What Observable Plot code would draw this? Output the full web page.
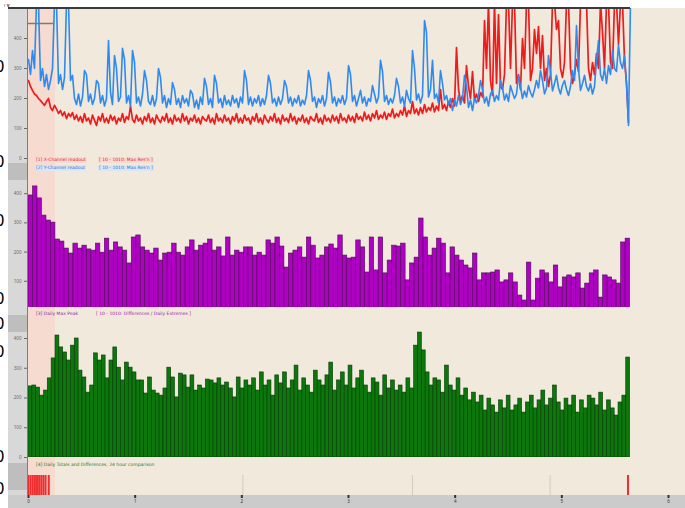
<!DOCTYPE html>
<html><head><meta charset="utf-8">
<script src="https://cdn.jsdelivr.net/npm/d3@7"></script>
<script src="https://cdn.jsdelivr.net/npm/@observablehq/plot@0.6"></script>
<style>
html,body{margin:0;padding:0;background:#fff;}
#chart{position:relative;width:685px;height:508px;overflow:hidden;font-family:"DejaVu Sans",sans-serif;background:#fff;}
#chart svg{position:absolute;left:0;top:0;}
.deco{position:absolute;}
.lbl{position:absolute;font-size:4.5px;line-height:6px;white-space:nowrap;padding:0 1px;}
.cut{position:absolute;font-size:15px;line-height:15px;color:#000;}
</style></head><body><div id="chart"></div>
<script>
// ---------- data ----------
const blueVals = [330,280,360,300,520,520,260,300,240,280,230,260,300,520,520,250,280,230,270,520,520,260,
277,200,180,215,175,205,293,280,190,215,180,200,260,250,185,210,175,200,393,220,180,343,300,190,205,367,330,185,210,175,360,320,185,205,175,215,293,260,190,180,210,175,200,300,270,
185,210,170,200,180,253,230,180,200,170,210,185,200,175,227,215,170,195,165,205,180,267,240,180,200,170,277,250,185,200,170,210,180,195,
175,210,185,200,170,205,185,293,260,180,205,175,200,185,210,175,200,180,210,277,250,185,200,175,205,180,200,260,240,185,205,175,200,185,210,175,195,180,210,293,260,190,205,170,200,185,210,175,200,287,255,185,205,175,200,185,210,180,200,310,280,190,210,175,200,227,185,205,175,200,190,243,215,185,205,327,290,190,210,180,200,185,210,267,240,185,205,175,227,200,185,360,300,195,215,185,210,460,420,205,230,327,200,215,185,293,250,195,210,180,200,
160,195,175,210,180,200,277,240,170,195,160,200,185,210,260,230,185,205,175,215,227,190,210,195,260,235,195,215,190,243,220,200,215,277,240,200,225,205,243,220,205,230,260,235,293,260,215,235,343,290,225,250,277,235,215,245,260,230,210,240,293,260,443,300,227,250,277,240,225,250,215,240,327,393,280,260,300,250,310,280,360,300,290,377,320,300,343,250,110,520];
const redVals = [260,240,227,215,210,200,193,185,177,190,200,170,160,177,165,150,160,143,155,133,150,140,
153,130,145,125,140,120,150,125,135,115,145,127,110,140,125,150,120,135,118,145,127,140,115,135,125,150,120,140,130,175,130,120,145,125,135,115,140,125,150,120,135,115,145,130,120,140,125,150,120,135,115,145,125,135,120,150,125,140,115,135,125,145,120,135,115,140,130,125,145,120,135,115,150,125,135,120,145,125,135,
115,140,125,150,120,135,118,145,127,135,115,140,125,150,120,135,115,145,130,120,140,125,150,120,135,115,145,125,135,120,150,125,140,115,135,125,145,120,135,115,140,130,125,150,120,135,115,145,125,135,120,145,125,140,118,150,127,135,120,145,125,140,120,150,130,140,125,155,130,145,125,150,135,160,130,145,135,155,130,150,140,165,135,150,140,160,145,175,140,160,150,190,150,165,145,170,150,180,155,170,160,185,155,175,160,230,165,180,160,190,170,
200,175,370,230,190,210,185,310,240,200,290,195,215,190,220,205,460,300,520,260,210,520,250,480,240,230,280,520,520,300,520,520,250,280,230,400,300,520,520,260,300,430,350,440,300,410,260,300,240,280,520,520,430,460,300,270,320,520,520,300,250,280,330,290,520,520,520,520,300,260,320,280,350,300,520,420,300,520,520,320,300,520,520,380,520,520,330,250,120];
const purpleVals = [394,425,384,325,308,301,243,236,212,195,229,212,222,209,205,229,198,246,205,233,216,205,161,250,257,216,205,195,212,171,195,198,229,198,188,216,240,205,222,229,243,205,216,185,250,188,205,198,
216,216,188,198,188,240,229,250,219,147,195,205,216,181,250,222,178,188,216,226,212,257,188,178,181,240,216,130,250,137,250,127,171,222,219,229,103,161,181,315,250,188,212,246,229,127,216,188,171,154,144,195,103,127,127,130,137,96,103,127,96,51,34,164,34,109,137,127,96,154,79,113,120,113,127,75,92,127,137,44,120,113,103,92,233,246];
const greenVals = [239,242,235,208,225,266,333,410,370,353,326,376,400,292,269,218,242,350,326,343,266,326,370,302,259,319,302,286,259,259,215,269,225,215,208,232,302,269,202,282,276,235,276,225,242,232,262,259,249,266,242,252,232,202,269,232,
259,242,266,225,286,242,259,208,276,249,286,232,259,309,225,266,242,218,292,259,242,276,319,225,259,286,242,309,232,266,292,242,218,266,252,208,276,232,259,225,242,218,266,232,376,420,360,286,242,266,259,218,309,242,225,266,208,232,192,218,185,208,158,198,175,151,192,165,208,158,175,198,151,185,208,165,192,225,175,198,242,185,158,198,175,208,151,192,165,208,198,175,218,158,192,165,141,185,208,336];
const eventsRed = [0,2,4,6,8,10,12,14,16,19,562];
const eventsGray = [201,360,489];
const highlight = [{x1:-1, x2:25.3}];
const limitLine = [{x1:-1, x2:24, v:450}];
const topTicks = [0,100,200,300,400];
const purpleTicks = [100,200,300,400];
const greenTicks = [0,100,200,300,400];
const xTicks = [0,100,200,300,400,500,600];
const xTickLabels = ["0","1","2","3","4","5","6"];
const legendRed = ["[1] X-Channel readout","[ 10 - 1010: Max Res'n ]"];
const legendBlue = ["[2] Y-Channel readout","[ 10 - 1010: Max Res'n ]"];
const legendPurple = ["[3] Daily Max Peak","[ 10 - 1010: Differences / Daily Extremes ]"];
const legendGreen = ["[4] Daily Totals and Differences, 24 hour comparison"];

// ---------- build ----------
const chart = document.getElementById("chart");
function deco(l,t,w,h,bg){const d=document.createElement("div");d.className="deco";Object.assign(d.style,{left:l+"px",top:t+"px",width:w+"px",height:h+"px",background:bg});chart.appendChild(d);}
function label(txt,l,t,color,bg,cls){const s=document.createElement("div");s.className=cls||"lbl";s.textContent=txt;s.style.left=l+"px";s.style.top=t+"px";s.style.color=color;if(bg)s.style.background=bg;chart.appendChild(s);}

deco(22,8,663,487,"#f2e9dd");
deco(8,8,19,487,"#d8d8d8");
deco(8,163,19,17,"#bebebe");
deco(8,315,19,17,"#bebebe");
deco(8,463,19,27,"#bebebe");
deco(8,495,677,13,"#cbcbcb");

const base = {width:685,height:508,marginLeft:28,marginRight:17,x:{domain:[0,600],axis:null},style:{background:"transparent",overflow:"visible"}};
function panel(o){chart.appendChild(Plot.plot({...base,...o}));}

const step = 1.875;
const redData = redVals.map((v,i)=>({x:i*step,v}));
const blueData = blueVals.map((v,i)=>({x:i*step,v}));
const bars = (vals)=>{const w=564/vals.length;return vals.map((v,i)=>({x1:i*w,x2:(i+1)*w,v}));};

// highlight band
panel({marginTop:8,marginBottom:13,marks:[Plot.rect(highlight,{x1:"x1",x2:"x2",fill:"#f5dbd0"})]});
// top lines
panel({marginTop:8,marginBottom:350,y:{domain:[0,500],axis:null},marks:[
  Plot.ruleY(limitLine,{y:"v",x1:"x1",x2:"x2",stroke:"#7a7a7a",strokeWidth:1.5}),
  Plot.line(redData,{x:"x",y:"v",stroke:"#ee1c1c",strokeWidth:1.7,clip:true}),
  Plot.line(blueData,{x:"x",y:"v",stroke:"#2c8af0",strokeWidth:1.6,clip:true}),
  Plot.axisY({ticks:topTicks,tickSize:4,tickPadding:3,fontSize:4.5,color:"#666"})
]});
// purple bars
panel({marginTop:183,marginBottom:201,y:{domain:[10,435],axis:null},marks:[
  Plot.rectY(bars(purpleVals),{x1:"x1",x2:"x2",y:"v",fill:"#b000c4",stroke:"#4d0d55",strokeWidth:0.6,clip:true}),
  Plot.axisY({ticks:purpleTicks,tickSize:4,tickPadding:3,fontSize:4.5,color:"#666"})
]});
// green bars
panel({marginTop:328,marginBottom:51,y:{domain:[0,433.6],axis:null},marks:[
  Plot.rectY(bars(greenVals),{x1:"x1",x2:"x2",y:"v",fill:"#0c780c",stroke:"#063a06",strokeWidth:0.6,clip:true}),
  Plot.axisY({ticks:greenTicks,tickSize:4,tickPadding:3,fontSize:4.5,color:"#666"})
]});
// event strip
panel({marginTop:475,marginBottom:13,marks:[
  Plot.ruleX(eventsGray,{x:d=>d,stroke:"#d6cabd",strokeWidth:1}),
  Plot.ruleX(eventsRed,{x:d=>d,stroke:"#f02c2c",strokeWidth:2})
]});
// x axis
panel({marginTop:8,marginBottom:13,marks:[
  Plot.axisX({ticks:xTicks,tickFormat:(d,i)=>xTickLabels[i],tickSize:3,tickPadding:1,fontSize:4.5,color:"#333",strokeWidth:2})
]});

deco(27,8,1,487,"#7d7d7d");
deco(8,7,622,2,"#3a3a3a");

label(legendRed[0],35,157,"#e82020","#f6dcd6");
label(legendRed[1],98,157,"#e82020","#f6dcd6");
label(legendBlue[0],35,165,"#2f6fe0","#dce6f2");
label(legendBlue[1],98,165,"#2f6fe0","#dce6f2");
label(legendPurple[0],35,311,"#a020b0");
label(legendPurple[1],95,311,"#a020b0");
label(legendGreen[0],35,462,"#1a7a1a");

[60,155,214,292,317,345,450,482].forEach(t=>label("0",-5,t,"#000",null,"cut"));
</script></body></html>
